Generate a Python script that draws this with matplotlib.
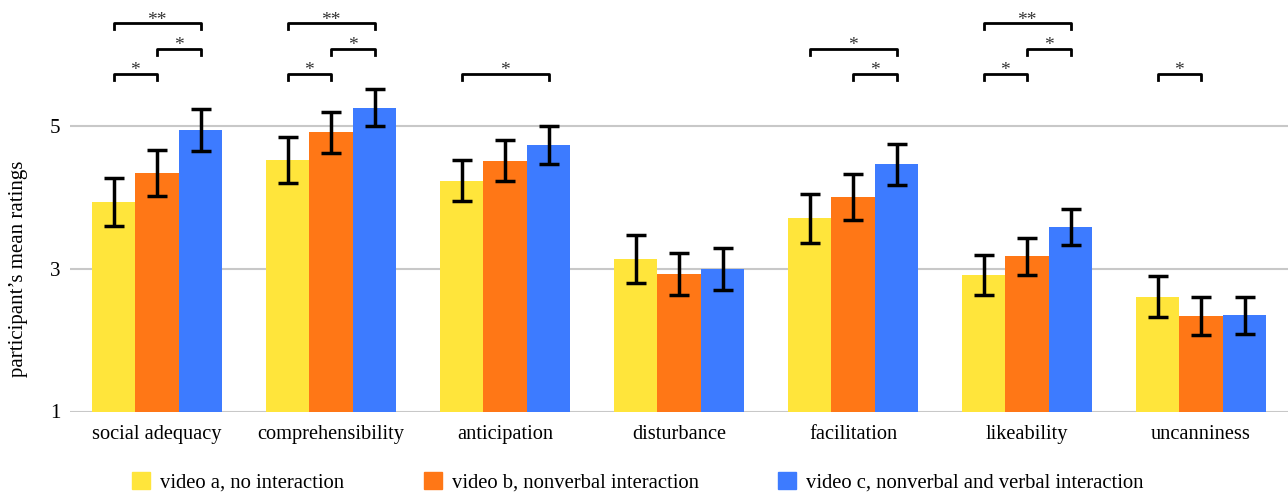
import numpy as np
import matplotlib.pyplot as plt
from matplotlib.patches import Patch

plt.rcParams['font.family'] = ['Liberation Serif', 'DejaVu Serif']

categories = ['social adequacy', 'comprehensibility', 'anticipation', 'disturbance',
              'facilitation', 'likeability', 'uncanniness']
series_names = ['video a, no interaction', 'video b, nonverbal interaction',
                'video c, nonverbal and verbal interaction']
video_a = [3.94, 4.53, 4.24, 3.14, 3.71, 2.92, 2.61]
video_b = [4.35, 4.92, 4.52, 2.93, 4.01, 3.18, 2.34]
video_c = [4.95, 5.26, 4.74, 3.00, 4.47, 3.59, 2.35]
err_a = [0.33, 0.32, 0.29, 0.33, 0.34, 0.28, 0.29]
err_b = [0.32, 0.29, 0.29, 0.30, 0.32, 0.26, 0.26]
err_c = [0.29, 0.26, 0.26, 0.30, 0.29, 0.25, 0.26]

# significance brackets: group, first series, second series, level, label
sig_group = [0, 0, 0, 1, 1, 1, 2, 4, 4, 5, 5, 5, 6]
sig_from = [0, 1, 0, 0, 1, 0, 0, 0, 1, 0, 1, 0, 0]
sig_to = [1, 2, 2, 1, 2, 2, 2, 2, 2, 1, 2, 2, 1]
sig_level = [0, 1, 2, 0, 1, 2, 0, 1, 0, 0, 1, 2, 0]
sig_label = ['*', '*', '**', '*', '*', '**', '*', '*', '*', '*', '*', '**', '*']
level_y = [5.74, 6.09, 6.45]

colors = ['#FFE53B', '#FF7716', '#3D7BFF']
values = [video_a, video_b, video_c]
errors = [err_a, err_b, err_c]

fig = plt.figure(figsize=(12.88, 4.92), dpi=100)
ax = fig.add_axes([70 / 1288, 80.5 / 492, 1218 / 1288, 411.5 / 492])

x = np.arange(len(categories))
w = 0.25
offsets = [-w, 0, w]
for k in range(3):
    ax.bar(x + offsets[k], values[k], w, bottom=0, color=colors[k], zorder=2)
    ax.errorbar(x + offsets[k], values[k], yerr=errors[k], fmt='none', ecolor='black',
                elinewidth=2.5, capsize=7, capthick=2.5, zorder=3)

tick_h = 0.085
for g, a, b, lv, lab in zip(sig_group, sig_from, sig_to, sig_level, sig_label):
    x0 = g + offsets[a]
    x1 = g + offsets[b]
    y = level_y[lv]
    ax.plot([x0, x0, x1, x1], [y - tick_h, y, y, y - tick_h], color='black', lw=2,
            clip_on=False, zorder=4, solid_joinstyle='round')
    ax.text((x0 + x1) / 2, y - 0.02, lab, ha='center', va='baseline', fontsize=14,
            color='#333333', clip_on=False)

ax.set_xlim(-0.5, 6.5)
ax.set_ylim(1, 6.775)
ax.set_yticks([1, 3, 5])
ax.set_xticks(x)
ax.set_xticklabels(categories, fontsize=14.7)
ax.tick_params(axis='y', labelsize=15, length=0, pad=7)
ax.tick_params(axis='x', length=0, pad=10)
ax.yaxis.grid(True, color='#c8c8c8', lw=1.5, zorder=0)
ax.set_axisbelow(True)
for s in ax.spines.values():
    s.set_visible(False)
ax.set_ylabel('participant\u2019s mean ratings', fontsize=15)
ax.yaxis.set_label_coords(-0.0343, (3 - 1) / (6.775 - 1))

handles = [Patch(color=c) for c in colors]
fig.legend(handles, series_names, loc='center left', bbox_to_anchor=(132 / 1288, 9.5 / 492),
           ncol=3, frameon=False, fontsize=14.85, handlelength=0.88, handleheight=0.88,
           handletextpad=0.48, columnspacing=3.85, borderpad=0, borderaxespad=0)

fig.savefig('out.png', dpi=100)
